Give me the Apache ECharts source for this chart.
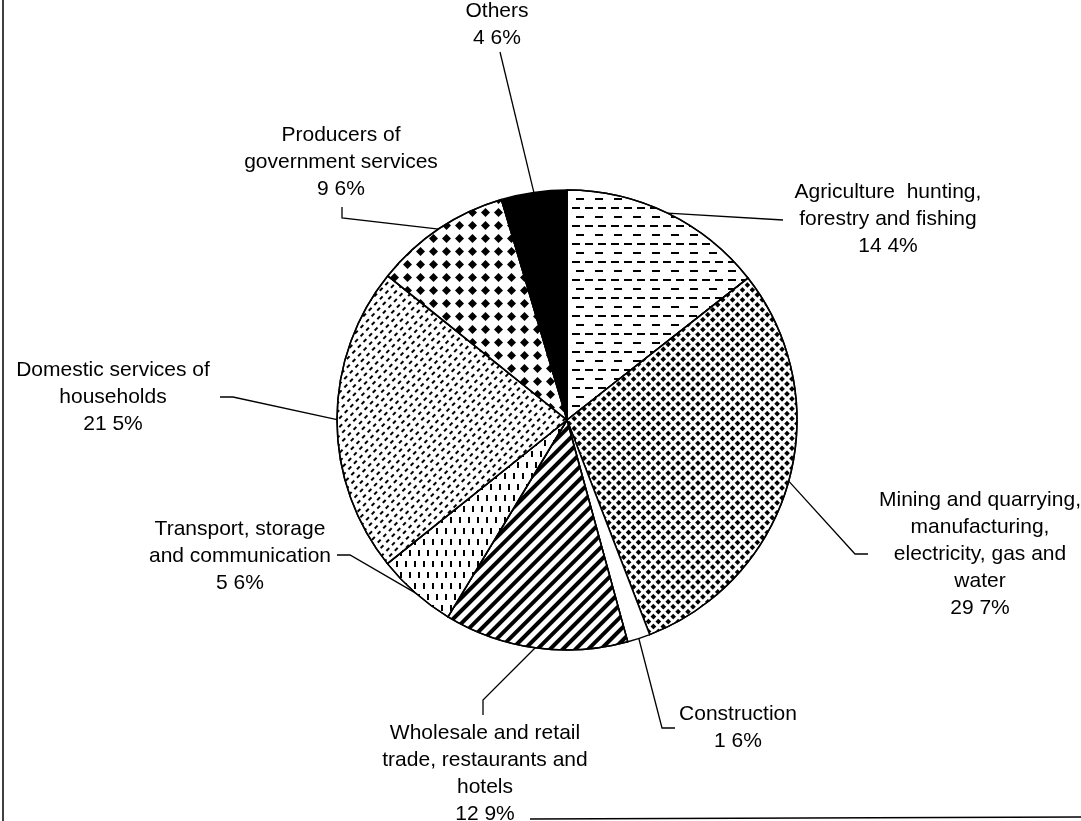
<!DOCTYPE html>
<html>
<head>
<meta charset="utf-8">
<script src="https://cdn.jsdelivr.net/npm/echarts@6/dist/echarts.min.js"></script>
<style>
  html, body { margin: 0; padding: 0; background: #fff; }
  #chart { width: 1081px; height: 821px; }
</style>
</head>
<body>
<div id="chart"></div>
<script>
// sectors, clockwise from 12 o'clock
const sectorNames = [
  'Agriculture  hunting,\nforestry and fishing',
  'Mining and quarrying,\nmanufacturing,\nelectricity, gas and\nwater',
  'Construction',
  'Wholesale and retail\ntrade, restaurants and\nhotels',
  'Transport, storage\nand communication',
  'Domestic services of\nhouseholds',
  'Producers of\ngovernment services',
  'Others'
]
const sectorShares = [14.4, 29.7, 1.6, 12.9, 5.6, 21.5, 9.6, 4.6]

// centre of each label block
const labelSpots = [
  [888, 219], [980, 554], [738, 728], [485, 774],
  [240, 556], [113, 397], [341, 162], [497, 25]
]
// leader line: bend point(s) after leaving the pie, ending at the text
const leaderTails = [
  [[783, 220]],
  [[855, 554], [868, 554]],
  [[662, 728], [675, 728]],
  [[483, 700], [483, 715]],
  [[350, 555], [337, 555]],
  [[233, 397], [220, 397]],
  [[342, 218], [342, 207]],
  [[500, 52]]
]

// black-and-white hatching per sector
const fills = [
  { symbol: 'rect', symbolSize: 1, color: '#000', dashArrayX: [[8, 5], [0, 6, 8, 5]], dashArrayY: [2, 7] },
  { symbol: 'rect', symbolSize: 1, color: '#000', dashArrayX: [4, 2.5], dashArrayY: [4, 2.5], rotation: Math.PI / 4 },
  null,
  { symbol: 'rect', symbolSize: 1, color: '#000', dashArrayX: [1, 0], dashArrayY: [4, 5], rotation: -Math.PI / 4 },
  { symbol: 'rect', symbolSize: 1, color: '#000', dashArrayX: [[2, 7], [0, 4, 2, 3]], dashArrayY: [6, 5] },
  { symbol: 'rect', symbolSize: 1, color: '#000', dashArrayX: [[4, 4], [0, 2, 4, 2]], dashArrayY: [1.5, 4], rotation: -0.8 },
  { symbol: 'diamond', symbolSize: 1, color: '#000', dashArrayX: [9, 3.5], dashArrayY: [9, 3.5] },
  null
]

const chart = echarts.init(document.getElementById('chart'))

chart.setOption({
  backgroundColor: '#fff',
  animation: false,
  graphic: [
    { type: 'line', shape: { x1: 3, y1: 0, x2: 3, y2: 821 }, style: { stroke: '#000', lineWidth: 1.5 } },
    { type: 'line', shape: { x1: 530, y1: 819, x2: 1081, y2: 817 }, style: { stroke: '#000', lineWidth: 1.5 } }
  ],
  series: [{
    type: 'pie',
    center: [567, 420],
    radius: [0, 230],
    startAngle: 90,
    clockwise: true,
    avoidLabelOverlap: false,
    data: sectorNames.map((name, i) => ({
      name,
      value: sectorShares[i],
      itemStyle: {
        color: i === 7 ? '#000' : '#fff',
        decal: fills[i] || undefined
      }
    })),
    itemStyle: { borderColor: '#000', borderWidth: 1.5 },
    label: {
      show: true,
      position: 'outside',
      color: '#000',
      fontFamily: 'Liberation Sans, Arial, sans-serif',
      fontSize: 21,
      lineHeight: 27,
      align: 'center',
      formatter: p => p.name + '\n' + p.value.toFixed(1).replace('.', ' ') + '%'
    },
    labelLine: { show: true, lineStyle: { color: '#000', width: 1.3 } },
    labelLayout: p => ({
      x: labelSpots[p.dataIndex][0],
      y: labelSpots[p.dataIndex][1],
      align: 'center',
      verticalAlign: 'middle',
      labelLinePoints: [p.labelLinePoints[0]].concat(leaderTails[p.dataIndex])
    }),
    emphasis: { disabled: true }
  }]
})
</script>
</body>
</html>
